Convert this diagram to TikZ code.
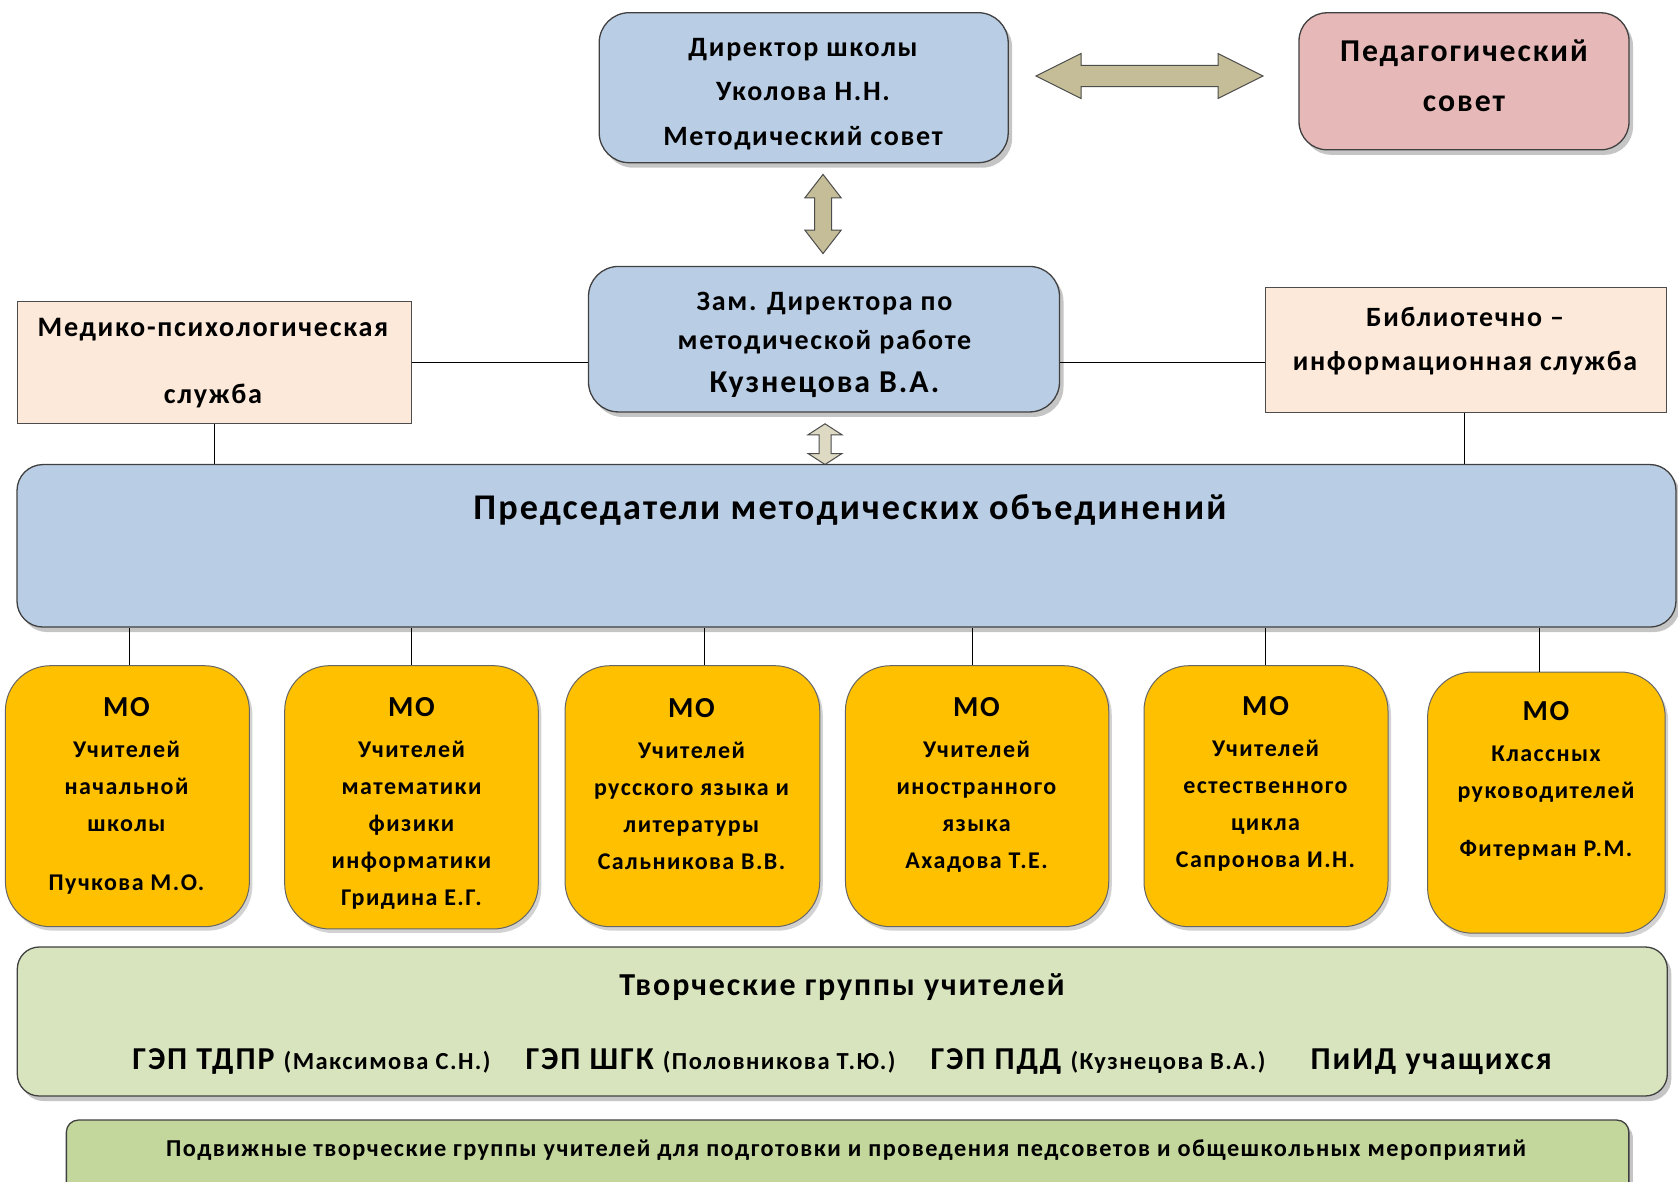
\documentclass[tikz,border=0pt]{standalone}
\usepackage{fontspec}
\setmainfont{Carlito}[LetterSpace=6]
\usetikzlibrary{shadows,calc}
\definecolor{cblue}{HTML}{B9CDE5}
\definecolor{cpink}{HTML}{E6B9B8}
\definecolor{cpeach}{HTML}{FDE9D9}
\definecolor{corange}{HTML}{FFC000}
\definecolor{cgreen}{HTML}{D7E4BD}
\definecolor{cgreenb}{HTML}{C3D69B}
\definecolor{carrow}{HTML}{C4BD97}
\definecolor{carrowl}{HTML}{DDD9C3}
\newcommand\fsz[2]{\fontsize{#1}{#2}\selectfont}
\begin{document}
\begin{tikzpicture}[x=1pt,y=-1pt,
  shbox/.style={draw=black!75, line width=1.3pt, rounded corners=#1, inner sep=0pt,
     drop shadow={shadow xshift=4pt, shadow yshift=-5pt, fill=black!45}},
  shbox/.default=28pt,
  mobox/.style={draw=black!60, line width=1pt, rounded corners=45pt, inner sep=0pt, fill=corange,
     drop shadow={shadow xshift=3pt, shadow yshift=-4pt, fill=black!35}},
  plainbox/.style={draw=black!70, line width=1pt, inner sep=0pt},
  txt/.style={align=center, inner sep=0pt},
  motxt/.style={align=center, inner sep=0pt, font=\bfseries\fsz{24}{37}},
  conn/.style={draw=black, line width=0.9pt},
  fatarrow/.style={draw=black!70, line width=1pt, fill=carrow, line join=miter}
]
\path[use as bounding box] (0,0) rectangle (1678,1182);
\clip (0,0) rectangle (1678,1182);

% top row
\node[shbox=30pt, fill=cblue, minimum width=409pt, minimum height=150pt] (dir) at (803.7,87.7) {};
\node[txt, font=\bfseries\fsz{28}{44.5}] (dirt) at (803,94) {Директор школы\\Уколова Н.Н.\\Методический совет};

\node[shbox=28pt, fill=cpink, minimum width=330pt, minimum height=137pt] (ped) at (1464,81.3) {};
\node[txt, font=\bfseries\fsz{31.8}{50.5}] (pedt) at (1464,76) {Педагогический\\совет};

% arrows
\coordinate (ha) at (1036,76);
\draw[fatarrow] (ha) -- ++(45,-22.5) -- ++(0,11.8) -- ++(137,0) -- ++(0,-11.8) -- ++(45,22.5)
  -- ++(-45,22.5) -- ++(0,-11.8) -- ++(-137,0) -- ++(0,11.8) -- cycle;
\coordinate (va) at (823,174.4);
\draw[fatarrow] (va) -- ++(18.2,23.5) -- ++(-9.7,0) -- ++(0,32.2) -- ++(9.7,0) -- ++(-18.2,23.5)
  -- ++(-18.2,-23.5) -- ++(9.7,0) -- ++(0,-32.2) -- ++(-9.7,0) -- cycle;
\coordinate (sa) at (825,423.8);
\draw[fatarrow, fill=carrowl] (sa) -- ++(17,11) -- ++(-11,0) -- ++(0,18.7) -- ++(11,0) -- ++(-17,11)
  -- ++(-17,-11) -- ++(11,0) -- ++(0,-18.7) -- ++(-11,0) -- cycle;

% second row
\node[shbox=30pt, fill=cblue, minimum width=471pt, minimum height=145.5pt] (zam) at (824,339.2) {};
\node[txt, font=\bfseries\fsz{28}{38.5}] (zamt) at (824.5,345) {Зам. Директора по\\методической работе\\[5pt]{\fsz{31.8}{40}Кузнецова В.А.}};

\node[plainbox, fill=cpeach, minimum width=394pt, minimum height=122pt] (med) at (214,362.8) {};
\node[txt, font=\bfseries\fsz{28.2}{67}] (medt) at (213,363.5) {Медико-психологическая\\служба};

\node[plainbox, fill=cpeach, minimum width=401pt, minimum height=124pt] (bib) at (1465.6,350) {};
\node[txt, font=\bfseries\fsz{27.9}{44}] (bibt) at (1465,341.5) {Библиотечно –\\информационная служба};

% chairs
\node[shbox=26pt, fill=cblue, minimum width=1659pt, minimum height=162.5pt] (pred) at (846.5,545.8) {};
\node[txt, font=\bfseries\fsz{36.2}{44}] (predt) at (850,510) {Председатели методических объединений};

% MO boxes
\node[mobox, minimum width=244pt, minimum height=261pt] (mo1) at (127.4,796.2) {};
\node[motxt] (mo1t) at (126.5,795.5) {{\fsz{29}{30}МО}\\[4pt]Учителей\\начальной\\школы\\[22pt]Пучкова М.О.};
\node[mobox, minimum width=253.6pt, minimum height=263.3pt] (mo2) at (411.5,797.3) {};
\node[motxt] (mo2t) at (411.5,803) {{\fsz{29}{30}МО}\\[4pt]Учителей\\математики\\физики\\информатики\\Гридина Е.Г.};
\node[mobox, minimum width=254.7pt, minimum height=261pt] (mo3) at (692.4,796.2) {};
\node[motxt] (mo3t) at (691.5,784) {{\fsz{29}{30}МО}\\[4pt]Учителей\\русского языка и\\литературы\\Сальникова В.В.};
\node[mobox, minimum width=263.3pt, minimum height=261pt] (mo4) at (977.1,796.2) {};
\node[motxt] (mo4t) at (976.5,784.5) {{\fsz{29}{30}МО}\\[4pt]Учителей\\иностранного\\языка\\Ахадова Т.Е.};
\node[mobox, minimum width=244pt, minimum height=261pt] (mo5) at (1266,796.2) {};
\node[motxt] (mo5t) at (1265.5,784) {{\fsz{29}{30}МО}\\[4pt]Учителей\\естественного\\цикла\\Сапронова И.Н.};
\node[mobox, minimum width=237.6pt, minimum height=261.2pt] (mo6) at (1546.4,802.6) {};
\node[motxt] (mo6t) at (1546,781) {{\fsz{29}{30}МО}\\[4pt]Классных\\руководителей\\[21pt]Фитерман Р.М.};

% creative groups
\node[shbox=22pt, fill=cgreen, minimum width=1650pt, minimum height=149pt] (tvor) at (842.3,1021.5) {};
\node[txt, font=\bfseries\fsz{32}{38}] (tvort) at (842,987) {Творческие группы учителей};
\node[txt, font=\bfseries\fsz{31.9}{38}] (gep) at (842,1062) {ГЭП ТДПР {\fsz{24.5}{30}(Максимова С.Н.)}\hspace{35pt}ГЭП ШГК {\fsz{24.5}{30}(Половникова Т.Ю.)}\hspace{35pt}ГЭП ПДД {\fsz{24.5}{30}(Кузнецова В.А.)}\hspace{45pt}ПиИД учащихся};

\node[shbox=12pt, fill=cgreenb, minimum width=1562.5pt, minimum height=90pt, anchor=north] (bot) at (847.6,1119.4) {};
\node[txt, font=\bfseries\fsz{24.3}{28}] (bott) at (846,1150.5) {Подвижные творческие группы учителей для подготовки и проведения педсоветов и общешкольных мероприятий};

% connectors
\draw[conn] (med.east) -- (med.east -| zam.west);
\draw[conn] (zam.east |- med.east) -- (bib.west |- med.east);
\draw[conn] (med.south) -- (med.south |- pred.north);
\draw[conn] ([xshift=-1.6pt]bib.south) -- ([xshift=-1.6pt]bib.south |- pred.north);
\draw[conn] ([xshift=1.6pt]mo1.north) -- ([xshift=1.6pt]mo1.north |- pred.south);
\draw[conn] (mo2.north) -- (mo2.north |- pred.south);
\draw[conn] ([xshift=11.6pt]mo3.north) -- ([xshift=11.6pt]mo3.north |- pred.south);
\draw[conn] ([xshift=-5pt]mo4.north) -- ([xshift=-5pt]mo4.north |- pred.south);
\draw[conn] ([xshift=-1pt]mo5.north) -- ([xshift=-1pt]mo5.north |- pred.south);
\draw[conn] ([xshift=-7.4pt]mo6.north) -- ([xshift=-7.4pt]mo6.north |- pred.south);
\end{tikzpicture}
\end{document}
